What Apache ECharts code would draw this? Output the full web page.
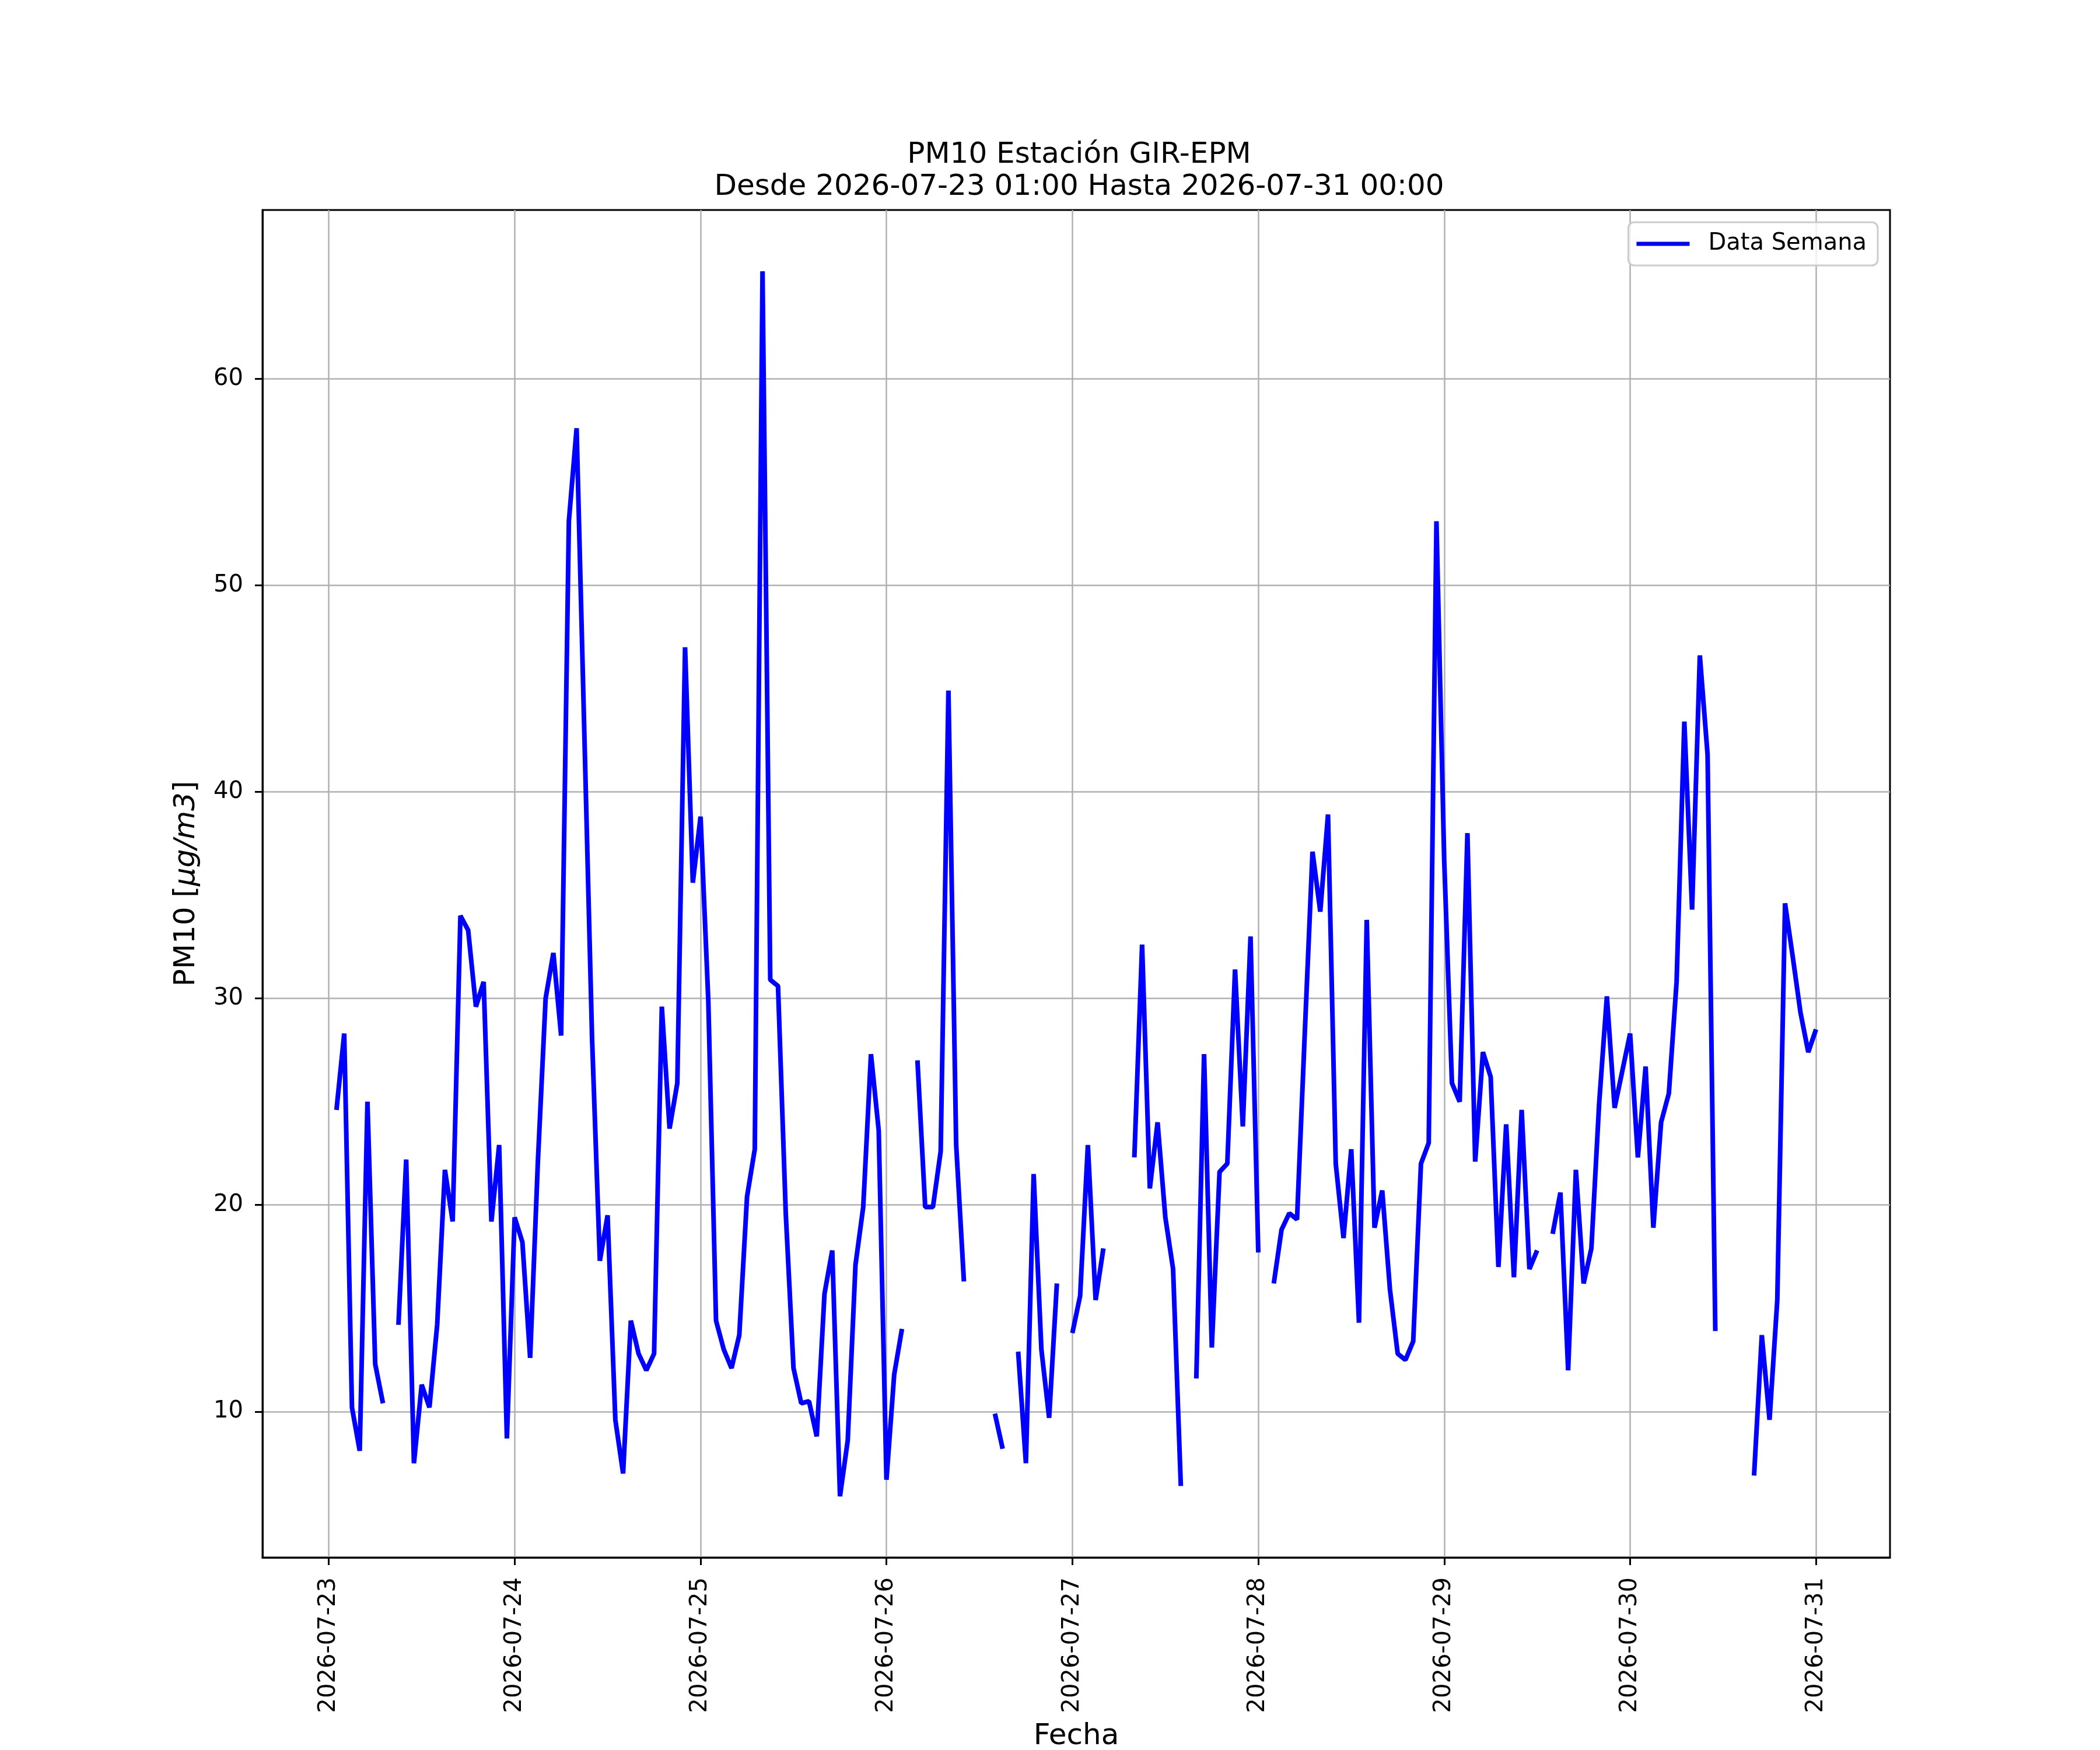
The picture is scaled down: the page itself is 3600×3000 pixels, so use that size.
<!DOCTYPE html>
<html>
<head>
<meta charset="utf-8">
<script src="https://cdn.jsdelivr.net/npm/echarts@6/dist/echarts.min.js"></script>
<style>
    html, body { margin: 0; padding: 0; background: #fff; overflow: hidden; }
    #chart { width: 3600px; height: 3000px; }
</style>
</head>
<body>
<div id="chart"></div>
<script>
// Etiquetas de los ticks del eje x (un tick por día, a las 00:00)
var dayLabels = ['2026-07-23', '2026-07-24', '2026-07-25', '2026-07-26', '2026-07-27',
                 '2026-07-28', '2026-07-29', '2026-07-30', '2026-07-31'];
var yTicks = [10, 20, 30, 40, 50, 60];

// PM10 horario, cada arreglo va de la 01:00 de un día a la 00:00 del siguiente
var pm10_0723 = [24.6, 28.3, 10.2, 8.1, 25.0, 12.3, 10.4, null, 14.2, 22.2, 7.5, 11.3,
                 10.2, 14.2, 21.7, 19.2, 34.0, 33.3, 29.6, 30.8, 19.2, 22.9, 8.7, 19.4];
var pm10_0724 = [18.2, 12.6, 22.1, 30.0, 32.2, 28.2, 53.1, 57.6, 42.8, 28.0, 17.3, 19.5,
                 9.6, 7.0, 14.4, 12.8, 12.0, 12.8, 29.6, 23.7, 25.9, 47.0, 35.6, 38.8];
var pm10_0725 = [29.9, 14.4, 13.0, 12.1, 13.7, 20.4, 22.7, 65.2, 30.9, 30.6, 19.6, 12.1,
                 10.4, 10.5, 8.8, 15.7, 17.8, 5.9, 8.6, 17.1, 19.9, 27.3, 23.6, 6.7];
var pm10_0726 = [11.8, 14.0, null, 27.0, 19.9, 19.9, 22.6, 44.9, 22.9, 16.3, null, null,
                 null, 9.9, 8.2, null, 12.9, 7.5, 21.5, 13.0, 9.7, 16.2, null, 13.8];
var pm10_0727 = [15.6, 22.9, 15.4, 17.9, null, null, null, 22.3, 32.6, 20.8, 24.0, 19.4,
                 16.9, 6.4, null, 11.6, 27.3, 13.1, 21.6, 22.0, 31.4, 23.8, 33.0, 17.7];
var pm10_0728 = [null, 16.2, 18.8, 19.6, 19.3, 28.3, 37.1, 34.2, 38.9, 22.0, 18.4, 22.7,
                 14.3, 33.8, 18.9, 20.7, 15.9, 12.8, 12.5, 13.4, 22.0, 23.0, 53.1, 36.7];
var pm10_0729 = [25.9, 25.0, 38.0, 22.1, 27.4, 26.2, 17.0, 23.9, 16.5, 24.6, 16.9, 17.8,
                 null, 18.6, 20.6, 12.0, 21.7, 16.2, 17.9, 24.9, 30.1, 24.7, 26.5, 28.3];
var pm10_0730 = [22.3, 26.7, 18.9, 24.0, 25.4, 30.8, 43.4, 34.3, 46.6, 41.8, 13.9, null,
                 null, null, null, 6.9, 13.7, 9.6, 15.4, 34.6, 32.0, 29.3, 27.4, 28.5];

var days = [pm10_0723, pm10_0724, pm10_0725, pm10_0726, pm10_0727, pm10_0728, pm10_0729, pm10_0730];

// x = horas desde 2026-07-23 00:00
var seriesData = [];
var validValues = [];
days.forEach(function (arr, d) {
    arr.forEach(function (v, h) {
        seriesData.push([d * 24 + h + 1, v == null ? '-' : v]);
        if (v != null) validValues.push(v);
    });
});

// márgenes del 5% como en matplotlib
var xFirst = 1, xLast = days.length * 24;
var xPad = (xLast - xFirst) * 0.05;
var yMinData = Math.min.apply(null, validValues);
var yMaxData = Math.max.apply(null, validValues);
var yPad = (yMaxData - yMinData) * 0.05;

var FONT = 'DejaVu Sans';

var chart = echarts.init(document.getElementById('chart'));
var option = {
    backgroundColor: '#ffffff',
    animation: false,
    title: {
        text: 'PM10 Estación GIR-EPM\nDesde 2026-07-23 01:00 Hasta 2026-07-31 00:00',
        left: 1845,
        top: 234,
        textAlign: 'center',
        textStyle: {
            fontFamily: FONT,
            fontSize: 50,
            fontWeight: 'normal',
            color: '#000',
            lineHeight: 55
        }
    },
    legend: {
        data: ['Data Semana'],
        right: 381,
        top: 381,
        orient: 'vertical',
        icon: 'rect',
        itemWidth: 91,
        itemHeight: 7,
        padding: [17, 19, 17, 14],
        borderColor: '#cccccc',
        borderWidth: 3,
        borderRadius: 10,
        backgroundColor: 'rgba(255,255,255,0.8)',
        textStyle: {
            fontFamily: FONT,
            fontSize: 40,
            color: '#000',
            padding: [0, 0, 0, 27]
        }
    },
    grid: {
        left: 450,
        right: 360,
        top: 360,
        bottom: 330,
        show: true,
        borderColor: '#000',
        borderWidth: 3,
        containLabel: false,
        outerBoundsMode: 'none'
    },
    xAxis: {
        type: 'value',
        min: xFirst - xPad,
        max: xLast + xPad,
        name: 'Fecha',
        nameLocation: 'middle',
        nameGap: 282,
        nameTextStyle: { fontFamily: FONT, fontSize: 50, color: '#000' },
        axisLine: { show: true, onZero: false, lineStyle: { color: '#000', width: 3 } },
        axisTick: {
            show: true,
            length: 13,
            customValues: dayLabels.map(function (_, i) { return i * 24; }),
            lineStyle: { color: '#000', width: 3 }
        },
        axisLabel: {
            rotate: 90,
            margin: 34,
            fontFamily: FONT,
            fontSize: 40,
            color: '#000',
            customValues: dayLabels.map(function (_, i) { return i * 24; }),
            formatter: function (v) { return dayLabels[Math.round(v / 24)]; }
        },
        splitLine: { show: true, lineStyle: { color: '#b0b0b0', width: 2.5 } }
    },
    yAxis: {
        type: 'value',
        min: yMinData - yPad,
        max: yMaxData + yPad,
        name: 'PM10 [{i|μg/m3}]',
        nameLocation: 'middle',
        nameGap: 105,
        nameTextStyle: {
            fontFamily: FONT,
            fontSize: 50,
            color: '#000',
            rich: {
                i: { fontFamily: FONT, fontSize: 50, fontStyle: 'italic', color: '#000' }
            }
        },
        axisLine: { show: true, onZero: false, lineStyle: { color: '#000', width: 3 } },
        axisTick: {
            show: true,
            length: 13,
            customValues: yTicks,
            lineStyle: { color: '#000', width: 3 }
        },
        axisLabel: {
            margin: 33,
            fontFamily: FONT,
            fontSize: 40,
            color: '#000',
            customValues: yTicks
        },
        splitLine: { show: true, lineStyle: { color: '#b0b0b0', width: 2.5 } }
    },
    series: [{
        name: 'Data Semana',
        type: 'line',
        data: seriesData,
        showSymbol: false,
        connectNulls: false,
        color: '#0000ff',
        lineStyle: { color: '#0000ff', width: 8 },
        emphasis: { disabled: true }
    }]
};
chart.setOption(option);
</script>
</body>
</html>
